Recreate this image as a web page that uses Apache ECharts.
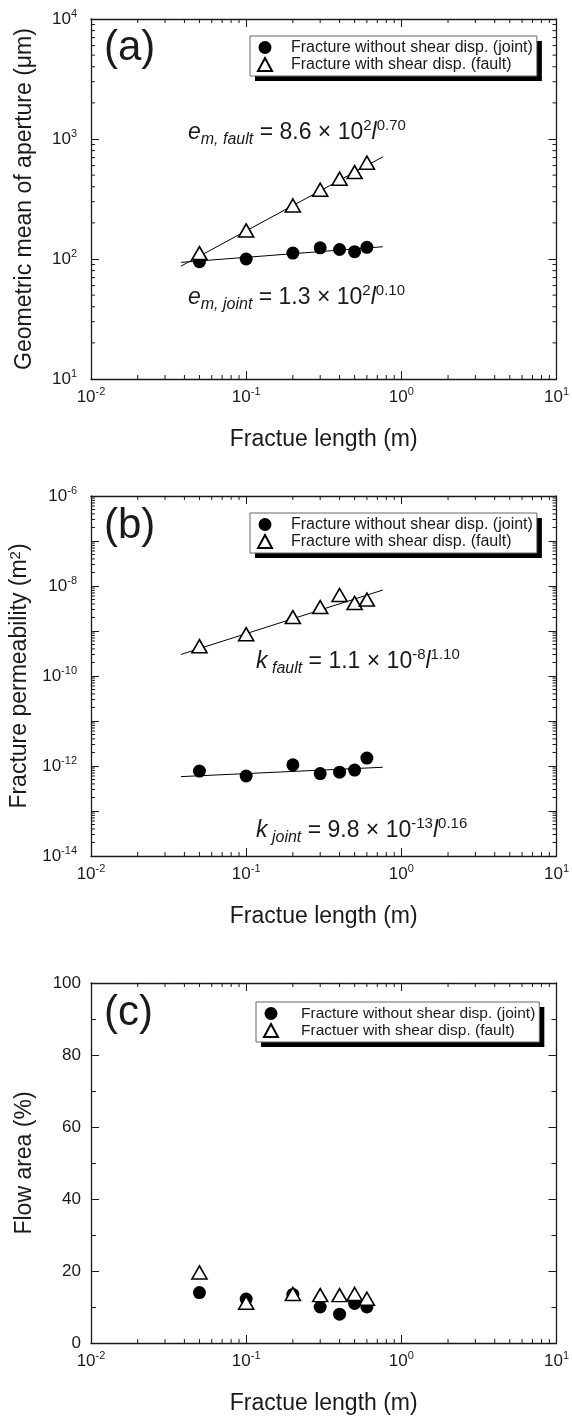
<!DOCTYPE html>
<html>
<head>
<meta charset="utf-8">
<script src="https://cdn.jsdelivr.net/npm/echarts@6/dist/echarts.min.js"></script>
<style>
  html, body { margin: 0; padding: 0; background: #fff; }
  #chart { width: 572px; height: 1418px; }
</style>
</head>
<body>
<div id="chart"></div>
<script>
// Fracture lengths of the specimens (m)
const fractureLength = [0.05, 0.1, 0.2, 0.3, 0.4, 0.5, 0.6];
// (a) geometric mean of aperture (μm)
const apertureJoint = [95, 100, 112, 124, 120, 115, 125];
const apertureFault = [112, 173, 279, 378, 467, 530, 635];
// (b) fracture permeability (m^2)
const permeabilityJoint = [7.7e-13, 6.0e-13, 1.06e-12, 6.8e-13, 7.3e-13, 8.1e-13, 1.5e-12];
const permeabilityFault = [4.6e-10, 8.5e-10, 2.04e-9, 3.4e-9, 6.3e-9, 4.2e-9, 5.0e-9];
// (c) flow area (%)
const flowAreaJoint = [14.0, 12.2, 13.5, 10.0, 8.0, 11.0, 10.0];
const flowAreaFault = [19.6, 11.2, 13.6, 13.3, 13.3, 13.6, 12.3];
// Power-law fits  y = m × 10^e · l^p, stored as [m, e, p]
const fitApertureFault = [8.6, 2, 0.70];
const fitApertureJoint = [1.3, 2, 0.10];
const fitPermFault = [1.1, -8, 1.10];
const fitPermJoint = [9.8, -13, 0.16];
const fitSpan = [0.038, 0.76];
// Axis ranges
const lengthRange = [0.01, 10];
const apertureRange = [10, 10000];
const permeabilityRange = [1e-14, 1e-6];
const flowRange = [0, 100];
const flowStep = 20;
// Texts
const panelLabels = ['(a)', '(b)', '(c)'];
const jointName = 'Fracture without shear disp. (joint)';
const faultName = 'Fracture with shear disp. (fault)';
const faultNameC = 'Fractuer with shear disp. (fault)';
const xTitle = 'Fractue length (m)';
const yTitles = ['Geometric mean of aperture (\u03bcm)', 'Fracture permeability (m{s|2})', 'Flow area (%)'];

const FONT = '"Liberation Sans", Arial, Helvetica, sans-serif';
const INK = '#1a1a1a';
const grids = [
  { left: 91, width: 467, top: 19, height: 360 },
  { left: 91, width: 467, top: 496, height: 360 },
  { left: 91, width: 467, top: 983, height: 360 }
];

const tickRich = {
  b: { fontSize: 17, fontFamily: FONT, color: INK, lineHeight: 22 },
  s: { fontSize: 11, fontFamily: FONT, color: INK, lineHeight: 11, verticalAlign: 'top' }
};
function powLabel(v) {
  const e = Math.round(Math.log10(v));
  return '{b|10}{s|' + e + '}';
}
function evenPowLabel(v) {
  const e = Math.round(Math.log10(v));
  return e % 2 === 0 ? '{b|10}{s|' + e + '}' : '';
}

const axisLine = { show: true, onZero: false, lineStyle: { color: INK, width: 1.3 } };
const majorTick = { show: true, inside: true, length: 8, lineStyle: { color: INK, width: 1 } };
const titleStyle = {
  fontSize: 23, fontFamily: FONT, color: INK,
  rich: { s: { fontSize: 15, fontFamily: FONT, color: INK, verticalAlign: 'top', lineHeight: 14 } }
};

function xAxisFor(gi, top) {
  return {
    type: 'log', logBase: 10, gridIndex: gi, min: lengthRange[0], max: lengthRange[1],
    position: top ? 'top' : 'bottom',
    axisLine, axisTick: majorTick, splitLine: { show: false },
    axisLabel: { show: !top, margin: 7, formatter: powLabel, rich: tickRich },
    name: top ? '' : xTitle, nameLocation: 'middle', nameGap: 49,
    nameTextStyle: titleStyle
  };
}
function yAxisFor(gi, right) {
  const base = {
    gridIndex: gi, position: right ? 'right' : 'left',
    axisLine, axisTick: majorTick, splitLine: { show: false },
    name: right ? '' : yTitles[gi], nameLocation: 'middle', nameGap: 55,
    nameTextStyle: titleStyle
  };
  if (gi === 0) {
    return Object.assign(base, { type: 'log', logBase: 10, min: apertureRange[0], max: apertureRange[1],
      axisLabel: { show: !right, margin: 14, formatter: powLabel, rich: tickRich } });
  }
  if (gi === 1) {
    return Object.assign(base, { type: 'log', logBase: 10, min: permeabilityRange[0], max: permeabilityRange[1],
      splitNumber: 8,
      axisLabel: { show: !right, margin: 14, formatter: evenPowLabel, rich: tickRich } });
  }
  return Object.assign(base, { type: 'value', min: flowRange[0], max: flowRange[1], interval: flowStep,
    minorTick: { show: true, splitNumber: 2, length: 5, lineStyle: { color: INK } },
    axisLabel: { show: !right, margin: 10, fontSize: 17, fontFamily: FONT, color: INK } });
}

// Minor ticks (2..9 × 10^k) of the log axes, drawn on all four sides of a panel
function logMinors(lo, hi) {
  const out = [];
  for (let e = lo; e < hi; e++) for (let m = 2; m <= 9; m++) out.push(m * Math.pow(10, e));
  return out;
}
function minorTickSeries(gi, yMin, yDecades) {
  const data = [];
  logMinors(-2, 1).forEach(v => data.push([v, yMin, 0]));
  if (yDecades) logMinors(yDecades[0], yDecades[1]).forEach(v => data.push([lengthRange[0], v, 1]));
  return {
    type: 'custom', xAxisIndex: gi, yAxisIndex: gi, silent: true, z: 1, clip: false,
    dimensions: ['x', 'y', 'k'], encode: { x: 0, y: 1 }, data,
    renderItem(params, api) {
      const cs = params.coordSys;
      const p = api.coord([api.value(0), api.value(1)]);
      const L = 4;
      const style = { stroke: INK, lineWidth: 1 };
      if (api.value(2) === 0) {
        const b = cs.y + cs.height;
        return { type: 'group', children: [
          { type: 'line', shape: { x1: p[0], y1: b, x2: p[0], y2: b - L }, style },
          { type: 'line', shape: { x1: p[0], y1: cs.y, x2: p[0], y2: cs.y + L }, style }
        ] };
      }
      const r = cs.x + cs.width;
      return { type: 'group', children: [
        { type: 'line', shape: { x1: cs.x, y1: p[1], x2: cs.x + L, y2: p[1] }, style },
        { type: 'line', shape: { x1: r, y1: p[1], x2: r - L, y2: p[1] }, style }
      ] };
    }
  };
}

function scatter(name, gi, ys, joint) {
  return {
    type: 'scatter', name, xAxisIndex: gi, yAxisIndex: gi,
    data: fractureLength.map((x, i) => [x, ys[i]]),
    symbol: joint ? 'circle' : 'triangle',
    symbolSize: joint ? 13 : [15, 13],
    itemStyle: joint ? { color: '#000', opacity: 1 } : { color: '#fff', borderColor: '#000', borderWidth: 1.6, opacity: 1 },
    z: joint ? 3 : 4
  };
}
function fitLine(gi, fit) {
  const c = fit[0] * Math.pow(10, fit[1]);
  return {
    type: 'line', xAxisIndex: gi, yAxisIndex: gi, symbol: 'none', silent: true, z: 2,
    lineStyle: { color: '#000', width: 1 },
    data: fitSpan.map(x => [x, c * Math.pow(x, fit[2])])
  };
}

// Each legend is laid out twice at the same place: a white box with a solid
// drop shadow underneath, and the framed legend with its entries on top.
function legendPair(gi, names, left, dy, size, textGap) {
  const common = {
    data: names, orient: 'vertical', left, top: grids[gi].top + dy,
    itemWidth: 14, itemHeight: 13, itemGap: 0,
    padding: [3, 4, 3, 7], selectedMode: false
  };
  const text = { fontSize: size, fontFamily: FONT, lineHeight: 17, padding: [0, 0, 0, textGap] };
  return [
    Object.assign({}, common, {
      z: 4, backgroundColor: '#fff', borderWidth: 0,
      shadowColor: '#000', shadowBlur: 0, shadowOffsetX: 5, shadowOffsetY: 5,
      itemStyle: { opacity: 0 },
      textStyle: Object.assign({ color: 'rgba(0,0,0,0)' }, text)
    }),
    Object.assign({}, common, {
      z: 5, backgroundColor: 'transparent', borderColor: '#666', borderWidth: 1,
      textStyle: Object.assign({ color: INK }, text)
    })
  ];
}

// Equation text for a power-law fit
const eqRich = {
  t: { fontSize: 23, fontFamily: FONT, color: INK, lineHeight: 30 },
  i: { fontSize: 23, fontFamily: FONT, color: INK, fontStyle: 'italic', lineHeight: 30 },
  sub: { fontSize: 16, fontFamily: FONT, color: INK, fontStyle: 'italic', verticalAlign: 'bottom', lineHeight: 16 },
  sup: { fontSize: 15, fontFamily: FONT, color: INK, verticalAlign: 'top', lineHeight: 15 }
};
function eqText(sym, sub, fit) {
  return '{i|' + sym + '}{sub|' + sub + '}{t| = ' + fit[0].toFixed(1) + ' \u00d7 10}{sup|' + fit[1] +
    '}{i|l}{sup|' + fit[2].toFixed(2) + '}';
}
function textEl(x, y, text, rich, size) {
  return { type: 'text', z: 50, style: { x, y, text, rich, fontSize: size || 23, fontFamily: FONT, fill: INK,
    verticalAlign: 'middle', align: 'left' } };
}

const chart = echarts.init(document.getElementById('chart'), null, { renderer: 'canvas' });
chart.setOption({
  animation: false,
  backgroundColor: '#fff',
  grid: grids,
  xAxis: [xAxisFor(0), xAxisFor(1), xAxisFor(2), xAxisFor(0, true), xAxisFor(1, true), xAxisFor(2, true)],
  yAxis: [yAxisFor(0), yAxisFor(1), yAxisFor(2), yAxisFor(0, true), yAxisFor(1, true), yAxisFor(2, true)],
  legend: [].concat(
    legendPair(0, [jointName, faultName], 250, 17, 16, 14),
    legendPair(1, [jointName, faultName], 250, 17, 16, 14),
    legendPair(2, [jointName, faultNameC], 256, 19, 15.5, 18)
  ),
  series: [
    minorTickSeries(0, apertureRange[0], [1, 4]),
    minorTickSeries(1, permeabilityRange[0], [-14, -6]),
    minorTickSeries(2, flowRange[0], null),
    fitLine(0, fitApertureJoint), fitLine(0, fitApertureFault),
    scatter(jointName, 0, apertureJoint, true), scatter(faultName, 0, apertureFault, false),
    fitLine(1, fitPermJoint), fitLine(1, fitPermFault),
    scatter(jointName, 1, permeabilityJoint, true), scatter(faultName, 1, permeabilityFault, false),
    scatter(jointName, 2, flowAreaJoint, true), scatter(faultNameC, 2, flowAreaFault, false)
  ],
  graphic: [
    textEl(104, grids[0].top + 29, panelLabels[0], null, 42),
    textEl(104, grids[1].top + 30, panelLabels[1], null, 42),
    textEl(104, grids[2].top + 30, panelLabels[2], null, 42),
    textEl(188, 133, eqText('e', 'm, fault', fitApertureFault), eqRich),
    textEl(188, 298, eqText('e', 'm, joint', fitApertureJoint), eqRich),
    textEl(256, 662, eqText('k', ' fault', fitPermFault), eqRich),
    textEl(256, 831, eqText('k', ' joint', fitPermJoint), eqRich)
  ]
});
</script>
</body>
</html>
